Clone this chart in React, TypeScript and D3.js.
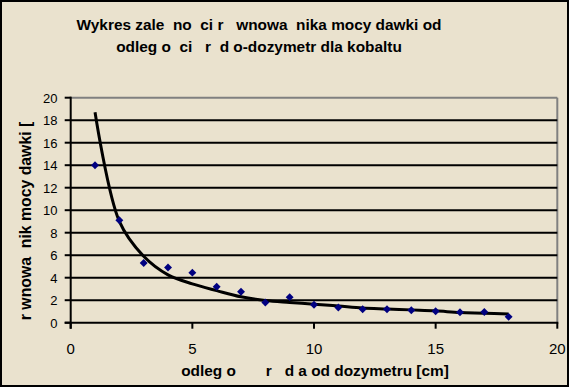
import React from "react";
import * as d3 from "d3";

const W = 571;
const H = 388;

const titleLines = [
  "Wykres zale  no  ci r   wnowa  nika mocy dawki od",
  "odleg o  ci   r  d o-dozymetr dla kobaltu",
];
const xAxisTitle = "odleg o       r   d a od dozymetru [cm]";
const yAxisTitle = "r wnowa  nik mocy dawki [";

const xTicks = [0, 5, 10, 15, 20];
const yTicks = [0, 2, 4, 6, 8, 10, 12, 14, 16, 18, 20];

// measured points
const pointX = [1, 2, 3, 4, 5, 6, 7, 8, 9, 10, 11, 12, 13, 14, 15, 16, 17, 18];
const pointY = [14.0, 9.1, 5.3, 4.9, 4.45, 3.2, 2.75, 1.8, 2.27, 1.6, 1.35, 1.2, 1.2, 1.1, 1.02, 0.93, 0.95, 0.52];

// smoothed curve
const curveX = [1, 2, 3, 4, 5, 6, 7, 8, 9, 10, 11, 12, 13, 14, 15, 16, 17, 18];
const curveY = [18.7, 9.0, 5.9, 4.25, 3.45, 2.85, 2.3, 1.97, 1.8, 1.65, 1.48, 1.3, 1.22, 1.14, 1.06, 0.9, 0.85, 0.78];

const plot = { left: 70.7, right: 557.3, top: 97.7, bottom: 322.7 };

export default function App() {
  const x = d3.scaleLinear().domain([0, 20]).range([plot.left, plot.right]);
  const y = d3.scaleLinear().domain([0, 20]).range([plot.bottom, plot.top]);

  const line = d3
    .line<[number, number]>()
    .x((d) => x(d[0]))
    .y((d) => y(d[1]))
    .curve(d3.curveCatmullRom.alpha(0.5));
  const curvePath = line(curveX.map((v, i) => [v, curveY[i]] as [number, number])) || "";

  const diamond = d3.symbol().type(d3.symbolDiamond2).size(40)() || "";

  const font = "'Liberation Sans', Arial, sans-serif";

  return (
    <svg
      width={W}
      height={H}
      style={{ position: "absolute", left: 0, top: 0, display: "block" }}
      fontFamily={font}
    >
      <rect x={0} y={0} width={W} height={H} fill="#ffffff" />
      <rect x={1} y={1} width={567} height={385} fill="#EAE2CE" stroke="#000" strokeWidth={2} />

      {/* title */}
      {titleLines.map((t, i) => (
        <text
          key={i}
          x={259}
          y={30 + i * 21.5}
          textAnchor="middle"
          fontSize={15.4}
          fontWeight="bold"
          fill="#000"
          style={{ whiteSpace: "pre" }}
        >
          {t}
        </text>
      ))}

      {/* plot frame: top and right gray */}
      <line x1={plot.left} x2={plot.right} y1={plot.top} y2={plot.top} stroke="#808080" strokeWidth={2} />
      <line x1={plot.right} x2={plot.right} y1={plot.top} y2={plot.bottom} stroke="#808080" strokeWidth={2} />

      {/* gridlines */}
      {yTicks.filter((v) => v > 0 && v < 20).map((v) => (
        <line key={v} x1={plot.left} x2={plot.right} y1={y(v)} y2={y(v)} stroke="#000" strokeWidth={2} />
      ))}

      {/* y axis */}
      <line x1={plot.left} x2={plot.left} y1={plot.top - 1} y2={plot.bottom + 6} stroke="#000" strokeWidth={2} />
      {yTicks.map((v) => (
        <g key={v}>
          <line x1={plot.left - 6} x2={plot.left} y1={y(v)} y2={y(v)} stroke="#000" strokeWidth={2} />
          <text x={57.5} y={y(v) + 5} textAnchor="end" fontSize={13} fill="#000">
            {v}
          </text>
        </g>
      ))}

      {/* x axis */}
      <line x1={plot.left - 6} x2={plot.right + 1} y1={plot.bottom} y2={plot.bottom} stroke="#000" strokeWidth={2} />
      {xTicks.map((v) => (
        <g key={v}>
          <line x1={x(v)} x2={x(v)} y1={plot.bottom} y2={plot.bottom + 6} stroke="#000" strokeWidth={2} />
          <text x={x(v)} y={353.5} textAnchor="middle" fontSize={15} fill="#000">
            {v}
          </text>
        </g>
      ))}

      {/* curve */}
      <path d={curvePath} fill="none" stroke="#000" strokeWidth={3} />

      {/* points */}
      {pointX.map((v, i) => (
        <path key={i} d={diamond} transform={`translate(${x(v)},${y(pointY[i])})`} fill="#000080" />
      ))}

      {/* axis titles */}
      <text
        x={315}
        y={376}
        textAnchor="middle"
        fontSize={15.4}
        fontWeight="bold"
        fill="#000"
        style={{ whiteSpace: "pre" }}
      >
        {xAxisTitle}
      </text>
      <text
        transform={`translate(31,221) rotate(-90)`}
        textAnchor="middle"
        fontSize={15.8}
        fontWeight="bold"
        fill="#000"
        style={{ whiteSpace: "pre" }}
      >
        {yAxisTitle}
      </text>
    </svg>
  );
}
